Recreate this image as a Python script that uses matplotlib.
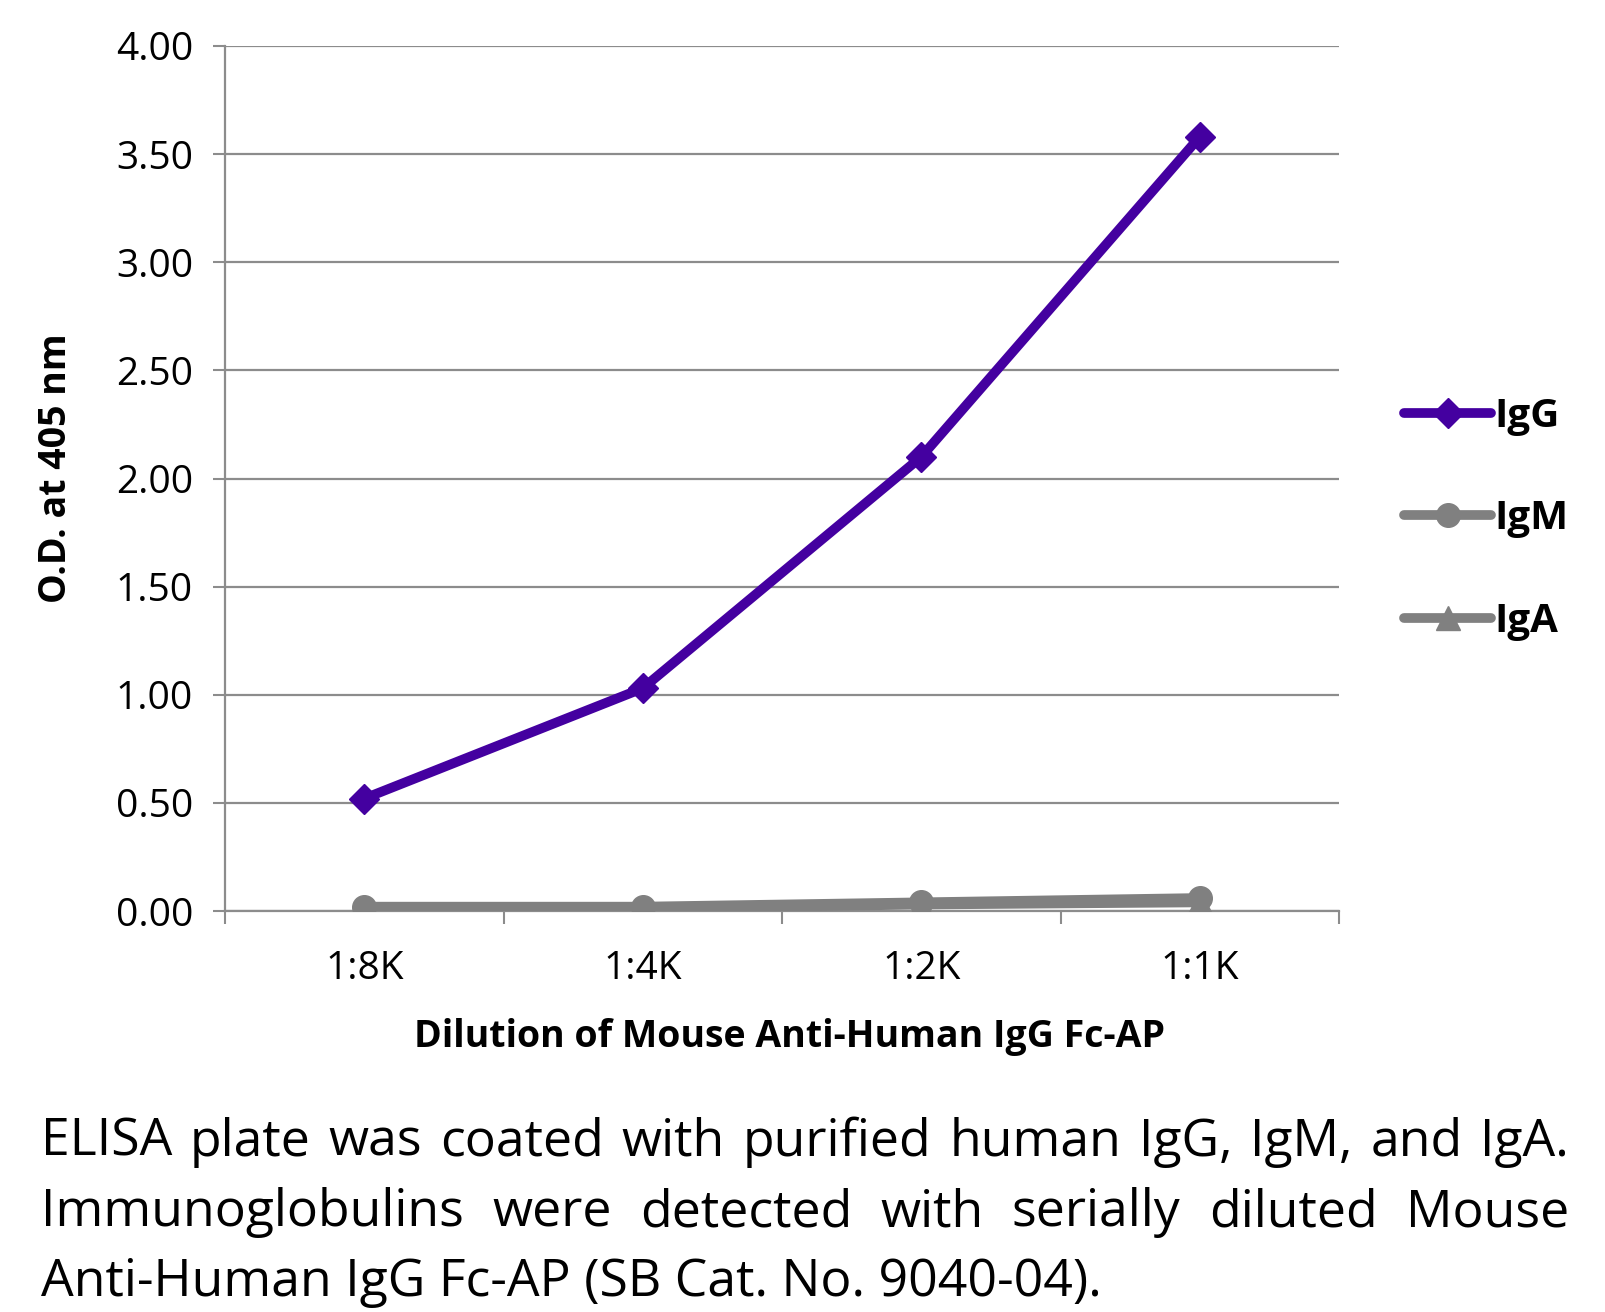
import matplotlib
matplotlib.use("Agg")
import matplotlib.pyplot as plt
from matplotlib.lines import Line2D

plt.rcParams['font.family'] = ['Open Sans', 'DejaVu Sans']

categories = ["1:8K", "1:4K", "1:2K", "1:1K"]
igg = [0.52, 1.03, 2.10, 3.58]
igm = [0.02, 0.02, 0.04, 0.06]
iga = [0.01, 0.01, 0.03, 0.04]
yticks = [0.0, 0.5, 1.0, 1.5, 2.0, 2.5, 3.0, 3.5, 4.0]

purple = "#4400a0"
gray = "#808080"
grid = "#8c8c8c"

W, H = 1605, 1312
fig = plt.figure(figsize=(W/100, H/100), dpi=100)
ax = fig.add_axes([225/W, 1-911/H, (1339-225)/W, (911-46)/H])

x = list(range(len(categories)))
ax.plot(x, igg, color=purple, lw=7, marker="D", ms=15, zorder=5, solid_capstyle="round")
ax.plot(x, igm, color=gray, lw=7, marker="o", ms=17, zorder=4)
ax.plot(x, iga, color=gray, lw=7, marker="^", ms=17, zorder=4)

ax.set_xlim(-0.5, len(categories)-0.5)
ax.set_ylim(0, 4.0)
ax.set_yticks(yticks)
ax.set_yticklabels([f"{v:.2f}" for v in yticks], fontsize=28)
ax.set_xticks(x)
ax.set_xticklabels(categories, fontsize=28)
ax.set_xticks([i-0.5 for i in range(len(categories)+1)], minor=True)
ax.tick_params(axis="x", which="major", length=0, pad=28)
ax.tick_params(axis="x", which="minor", length=9, width=1.5, color=grid, direction="out")
ax.tick_params(axis="y", length=9, width=1.5, color=grid, direction="out", pad=14)
ax.yaxis.grid(True, color=grid, lw=1.6)
ax.set_axisbelow(True)
for s in ["top", "right"]:
    ax.spines[s].set_visible(False)
for s in ["left", "bottom"]:
    ax.spines[s].set_color(grid)
    ax.spines[s].set_linewidth(1.6)

fig.text(56/W, 1-468/H, "O.D. at 405 nm", rotation=90, fontsize=27, fontweight="bold",
         ha="center", va="center")
fig.text(790/W, 1-1037/H, "Dilution of Mouse Anti-Human IgG Fc-AP", fontsize=27,
         fontweight="bold", ha="center", va="center")

handles = [
    Line2D([], [], color=purple, lw=7, marker="D", ms=15, solid_capstyle="round"),
    Line2D([], [], color=gray, lw=7, marker="o", ms=17, solid_capstyle="round"),
    Line2D([], [], color=gray, lw=7, marker="^", ms=17, solid_capstyle="round"),
]
leg = fig.legend(handles, ["IgG", "IgM", "IgA"], loc="center left",
                 bbox_to_anchor=(1368/W, 1-519/H), frameon=False, numpoints=1,
                 prop={"size": 29, "weight": "bold"}, handlelength=2.15,
                 handletextpad=0.08, labelspacing=1.58)

# justified caption
lines = [
    "ELISA plate was coated with purified human IgG, IgM, and IgA.",
    "Immunoglobulins were detected with serially diluted Mouse",
    "Anti-Human IgG Fc-AP (SB Cat. No. 9040-04).",
]
ys = [1142, 1213, 1283]
left, right = 41, 1569
fs = 37.3
renderer = fig.canvas.get_renderer()
for i, (ln, yy) in enumerate(zip(lines, ys)):
    words = ln.split(" ")
    if i == len(lines)-1:
        fig.text(left/W, 1-yy/H, ln, fontsize=fs, ha="left", va="center")
        continue
    arts = [fig.text(0, 1-yy/H, w, fontsize=fs, ha="left", va="center") for w in words]
    widths = [a.get_window_extent(renderer).width for a in arts]
    gap = (right-left-sum(widths))/(len(words)-1)
    xpos = left
    for a, w in zip(arts, widths):
        a.set_x(xpos/W)
        xpos += w + gap

fig.savefig("out.png", dpi=100)
